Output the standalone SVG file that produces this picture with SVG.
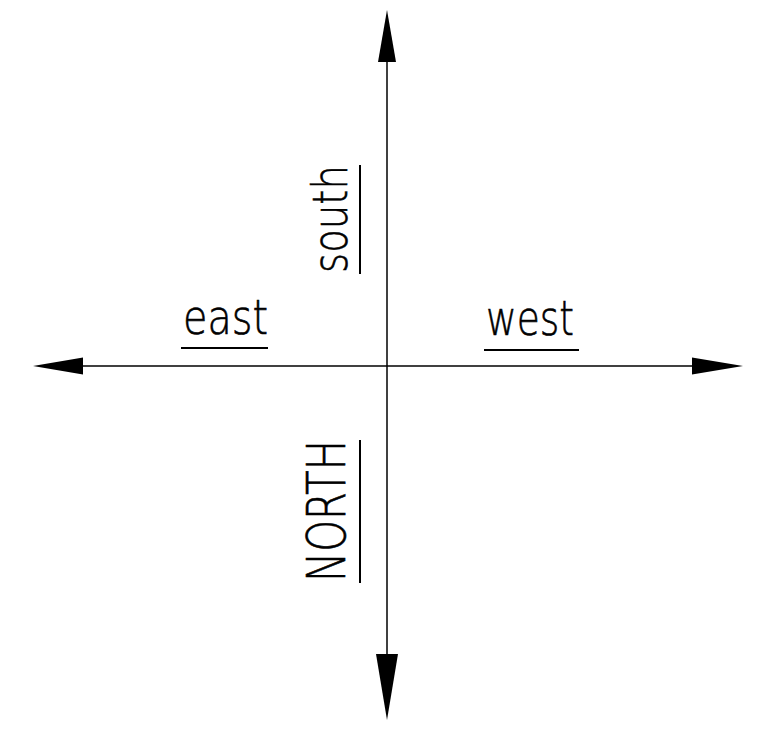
<svg xmlns="http://www.w3.org/2000/svg" width="762" height="739" viewBox="0 0 762 739">
<style>
.ax{stroke:#000;stroke-width:1.5;fill:none}
.ah{fill:#000;stroke:none}
.ul{stroke:#000;stroke-width:2;fill:none}
.lb{font-family:"DejaVu Sans","Liberation Sans",sans-serif;font-weight:200;fill:#000;stroke:#000;stroke-width:0.6}
</style>
<rect width="762" height="739" fill="#fff"/>
<g id="connectors">
<line class="ax" x1="387" y1="40" x2="387" y2="680"/>
<line class="ax" x1="60" y1="366" x2="715" y2="366"/>
<polygon class="ah" points="387,10 378,62 396,62"/>
<polygon class="ah" points="387,720 376,654 398,654"/>
<polygon class="ah" points="33,366 83,357.5 83,374.5"/>
<polygon class="ah" points="743,366 692,357.5 692,374.5"/>
</g>
<g id="south">
<text class="lb" font-size="48" transform="translate(347,273) rotate(-90)" textLength="108" lengthAdjust="spacingAndGlyphs">south</text>
<line class="ul" x1="360" y1="165" x2="360" y2="274"/>
</g>
<g id="east">
<text class="lb" font-size="48" x="183" y="334" textLength="85" lengthAdjust="spacingAndGlyphs">east</text>
<line class="ul" x1="181" y1="348" x2="268" y2="348"/>
</g>
<g id="west">
<text class="lb" font-size="48" x="486" y="335" textLength="88" lengthAdjust="spacingAndGlyphs">west</text>
<line class="ul" x1="484" y1="350" x2="579" y2="350"/>
</g>
<g id="north">
<text class="lb" font-size="54" transform="translate(345,582) rotate(-90)" textLength="142" lengthAdjust="spacingAndGlyphs">NORTH</text>
<line class="ul" x1="360" y1="440" x2="360" y2="583"/>
</g>
</svg>
